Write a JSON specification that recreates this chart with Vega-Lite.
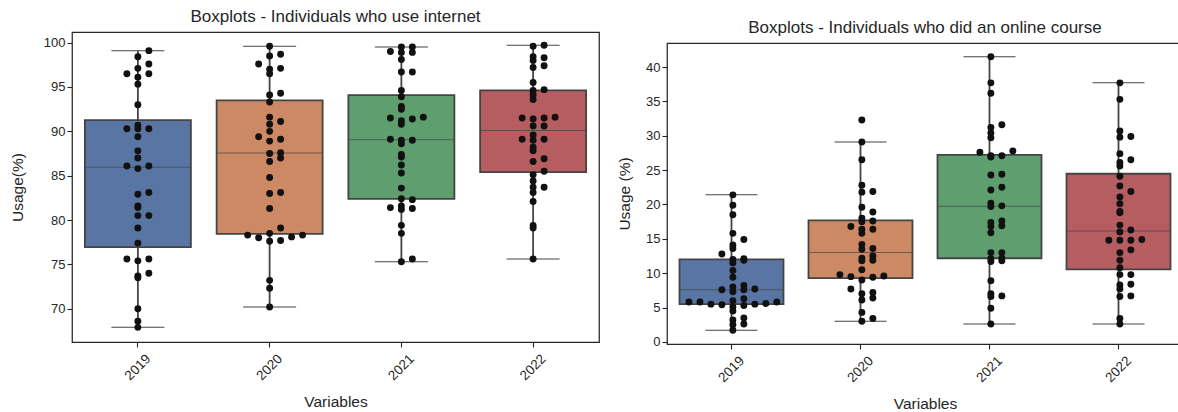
{
  "$schema": "https://vega.github.io/schema/vega-lite/v6.json",
  "background": "white",
  "padding": {"left": 9, "top": 6, "right": 0, "bottom": 0},
  "config": {
    "font": "Liberation Sans",
    "view": {"stroke": "#262626", "strokeWidth": 1.25},
    "axis": {"domain": false, "grid": false, "labelOverlap": false, "tickColor": "#262626", "tickSize": 5, "tickWidth": 1.1, "labelColor": "#262626", "labelFontSize": 13, "titleColor": "#262626", "titleFontSize": 15.5, "titleFontWeight": "normal", "labelFont": "Liberation Sans", "titleFont": "Liberation Sans"},
    "title": {"fontSize": 17, "fontWeight": "normal", "color": "#262626", "offset": 6, "font": "Liberation Sans"}
  },
  "datasets": {
    "net": [
      {"year": "2019", "usage": 99.1}, {"year": "2019", "usage": 98.4}, {"year": "2019", "usage": 97.6}, {"year": "2019", "usage": 97.1}, {"year": "2019", "usage": 96.5}, {"year": "2019", "usage": 96.5}, {"year": "2019", "usage": 96.1}, {"year": "2019", "usage": 95.3}, {"year": "2019", "usage": 93.0}, {"year": "2019", "usage": 90.7}, {"year": "2019", "usage": 90.3}, {"year": "2019", "usage": 90.3}, {"year": "2019", "usage": 90.3}, {"year": "2019", "usage": 89.4}, {"year": "2019", "usage": 87.8}, {"year": "2019", "usage": 87.0}, {"year": "2019", "usage": 86.1}, {"year": "2019", "usage": 85.8}, {"year": "2019", "usage": 86.1}, {"year": "2019", "usage": 83.1}, {"year": "2019", "usage": 82.9}, {"year": "2019", "usage": 81.6}, {"year": "2019", "usage": 81.4}, {"year": "2019", "usage": 80.5}, {"year": "2019", "usage": 80.5}, {"year": "2019", "usage": 79.1}, {"year": "2019", "usage": 77.4}, {"year": "2019", "usage": 75.6}, {"year": "2019", "usage": 75.6}, {"year": "2019", "usage": 75.4}, {"year": "2019", "usage": 74.0}, {"year": "2019", "usage": 73.7}, {"year": "2019", "usage": 73.5}, {"year": "2019", "usage": 70.0}, {"year": "2019", "usage": 68.6}, {"year": "2019", "usage": 67.9},
      {"year": "2020", "usage": 99.6}, {"year": "2020", "usage": 98.7}, {"year": "2020", "usage": 98.5}, {"year": "2020", "usage": 97.6}, {"year": "2020", "usage": 97.1}, {"year": "2020", "usage": 97.0}, {"year": "2020", "usage": 96.5}, {"year": "2020", "usage": 94.3}, {"year": "2020", "usage": 94.1}, {"year": "2020", "usage": 93.3}, {"year": "2020", "usage": 91.6}, {"year": "2020", "usage": 91.1}, {"year": "2020", "usage": 90.8}, {"year": "2020", "usage": 90.0}, {"year": "2020", "usage": 89.4}, {"year": "2020", "usage": 89.1}, {"year": "2020", "usage": 88.9}, {"year": "2020", "usage": 87.6}, {"year": "2020", "usage": 87.5}, {"year": "2020", "usage": 87.0}, {"year": "2020", "usage": 86.6}, {"year": "2020", "usage": 84.8}, {"year": "2020", "usage": 83.1}, {"year": "2020", "usage": 83.0}, {"year": "2020", "usage": 81.3}, {"year": "2020", "usage": 79.1}, {"year": "2020", "usage": 78.5}, {"year": "2020", "usage": 78.3}, {"year": "2020", "usage": 78.1}, {"year": "2020", "usage": 77.7}, {"year": "2020", "usage": 77.6}, {"year": "2020", "usage": 78.0}, {"year": "2020", "usage": 78.3}, {"year": "2020", "usage": 73.2}, {"year": "2020", "usage": 72.3}, {"year": "2020", "usage": 70.2},
      {"year": "2021", "usage": 99.5}, {"year": "2021", "usage": 99.5}, {"year": "2021", "usage": 99.0}, {"year": "2021", "usage": 98.9}, {"year": "2021", "usage": 98.9}, {"year": "2021", "usage": 98.1}, {"year": "2021", "usage": 96.7}, {"year": "2021", "usage": 96.7}, {"year": "2021", "usage": 94.6}, {"year": "2021", "usage": 93.9}, {"year": "2021", "usage": 92.8}, {"year": "2021", "usage": 92.5}, {"year": "2021", "usage": 91.4}, {"year": "2021", "usage": 91.6}, {"year": "2021", "usage": 91.2}, {"year": "2021", "usage": 91.5}, {"year": "2021", "usage": 90.8}, {"year": "2021", "usage": 89.0}, {"year": "2021", "usage": 88.6}, {"year": "2021", "usage": 89.1}, {"year": "2021", "usage": 89.0}, {"year": "2021", "usage": 87.1}, {"year": "2021", "usage": 87.4}, {"year": "2021", "usage": 86.2}, {"year": "2021", "usage": 85.3}, {"year": "2021", "usage": 83.6}, {"year": "2021", "usage": 82.3}, {"year": "2021", "usage": 82.4}, {"year": "2021", "usage": 81.6}, {"year": "2021", "usage": 81.3}, {"year": "2021", "usage": 81.2}, {"year": "2021", "usage": 81.4}, {"year": "2021", "usage": 79.4}, {"year": "2021", "usage": 78.5}, {"year": "2021", "usage": 75.6}, {"year": "2021", "usage": 75.3},
      {"year": "2022", "usage": 99.7}, {"year": "2022", "usage": 99.6}, {"year": "2022", "usage": 98.4}, {"year": "2022", "usage": 98.0}, {"year": "2022", "usage": 98.3}, {"year": "2022", "usage": 97.4}, {"year": "2022", "usage": 97.2}, {"year": "2022", "usage": 95.5}, {"year": "2022", "usage": 94.6}, {"year": "2022", "usage": 94.7}, {"year": "2022", "usage": 94.1}, {"year": "2022", "usage": 93.6}, {"year": "2022", "usage": 91.5}, {"year": "2022", "usage": 91.5}, {"year": "2022", "usage": 91.4}, {"year": "2022", "usage": 91.6}, {"year": "2022", "usage": 90.6}, {"year": "2022", "usage": 90.6}, {"year": "2022", "usage": 89.6}, {"year": "2022", "usage": 89.1}, {"year": "2022", "usage": 89.0}, {"year": "2022", "usage": 89.1}, {"year": "2022", "usage": 88.2}, {"year": "2022", "usage": 87.8}, {"year": "2022", "usage": 86.9}, {"year": "2022", "usage": 86.6}, {"year": "2022", "usage": 85.5}, {"year": "2022", "usage": 85.1}, {"year": "2022", "usage": 84.4}, {"year": "2022", "usage": 83.7}, {"year": "2022", "usage": 83.7}, {"year": "2022", "usage": 83.1}, {"year": "2022", "usage": 82.1}, {"year": "2022", "usage": 79.4}, {"year": "2022", "usage": 79.1}, {"year": "2022", "usage": 75.6}
    ],
    "onl": [
      {"year": "2019", "usage": 21.4}, {"year": "2019", "usage": 19.9}, {"year": "2019", "usage": 18.5}, {"year": "2019", "usage": 15.8}, {"year": "2019", "usage": 14.9}, {"year": "2019", "usage": 14.1}, {"year": "2019", "usage": 13.6}, {"year": "2019", "usage": 12.8}, {"year": "2019", "usage": 12.0}, {"year": "2019", "usage": 11.9}, {"year": "2019", "usage": 12.1}, {"year": "2019", "usage": 11.5}, {"year": "2019", "usage": 10.4}, {"year": "2019", "usage": 9.4}, {"year": "2019", "usage": 8.0}, {"year": "2019", "usage": 7.6}, {"year": "2019", "usage": 7.3}, {"year": "2019", "usage": 7.6}, {"year": "2019", "usage": 7.7}, {"year": "2019", "usage": 8.2}, {"year": "2019", "usage": 6.3}, {"year": "2019", "usage": 6.0}, {"year": "2019", "usage": 5.8}, {"year": "2019", "usage": 5.8}, {"year": "2019", "usage": 5.5}, {"year": "2019", "usage": 5.3}, {"year": "2019", "usage": 5.1}, {"year": "2019", "usage": 5.4}, {"year": "2019", "usage": 5.5}, {"year": "2019", "usage": 5.6}, {"year": "2019", "usage": 5.8}, {"year": "2019", "usage": 4.5}, {"year": "2019", "usage": 3.5}, {"year": "2019", "usage": 3.2}, {"year": "2019", "usage": 2.6}, {"year": "2019", "usage": 2.5}, {"year": "2019", "usage": 1.7},
      {"year": "2020", "usage": 32.3}, {"year": "2020", "usage": 29.1}, {"year": "2020", "usage": 26.5}, {"year": "2020", "usage": 22.8}, {"year": "2020", "usage": 21.9}, {"year": "2020", "usage": 21.8}, {"year": "2020", "usage": 19.6}, {"year": "2020", "usage": 18.9}, {"year": "2020", "usage": 18.0}, {"year": "2020", "usage": 17.5}, {"year": "2020", "usage": 17.6}, {"year": "2020", "usage": 16.4}, {"year": "2020", "usage": 15.8}, {"year": "2020", "usage": 16.4}, {"year": "2020", "usage": 16.8}, {"year": "2020", "usage": 13.6}, {"year": "2020", "usage": 13.5}, {"year": "2020", "usage": 14.2}, {"year": "2020", "usage": 12.5}, {"year": "2020", "usage": 11.8}, {"year": "2020", "usage": 11.9}, {"year": "2020", "usage": 12.2}, {"year": "2020", "usage": 10.5}, {"year": "2020", "usage": 9.8}, {"year": "2020", "usage": 9.4}, {"year": "2020", "usage": 9.0}, {"year": "2020", "usage": 9.5}, {"year": "2020", "usage": 9.6}, {"year": "2020", "usage": 7.7}, {"year": "2020", "usage": 7.0}, {"year": "2020", "usage": 7.2}, {"year": "2020", "usage": 6.4}, {"year": "2020", "usage": 6.1}, {"year": "2020", "usage": 4.3}, {"year": "2020", "usage": 3.4}, {"year": "2020", "usage": 3.0},
      {"year": "2021", "usage": 41.5}, {"year": "2021", "usage": 37.7}, {"year": "2021", "usage": 36.2}, {"year": "2021", "usage": 31.6}, {"year": "2021", "usage": 31.2}, {"year": "2021", "usage": 30.4}, {"year": "2021", "usage": 29.7}, {"year": "2021", "usage": 27.8}, {"year": "2021", "usage": 27.6}, {"year": "2021", "usage": 27.1}, {"year": "2021", "usage": 27.1}, {"year": "2021", "usage": 26.9}, {"year": "2021", "usage": 24.4}, {"year": "2021", "usage": 24.3}, {"year": "2021", "usage": 22.5}, {"year": "2021", "usage": 22.1}, {"year": "2021", "usage": 20.2}, {"year": "2021", "usage": 19.8}, {"year": "2021", "usage": 19.7}, {"year": "2021", "usage": 17.6}, {"year": "2021", "usage": 17.4}, {"year": "2021", "usage": 16.9}, {"year": "2021", "usage": 16.8}, {"year": "2021", "usage": 15.9}, {"year": "2021", "usage": 13.0}, {"year": "2021", "usage": 13.0}, {"year": "2021", "usage": 12.2}, {"year": "2021", "usage": 12.1}, {"year": "2021", "usage": 11.8}, {"year": "2021", "usage": 11.7}, {"year": "2021", "usage": 8.9}, {"year": "2021", "usage": 7.0}, {"year": "2021", "usage": 6.7}, {"year": "2021", "usage": 6.6}, {"year": "2021", "usage": 4.9}, {"year": "2021", "usage": 2.6},
      {"year": "2022", "usage": 37.7}, {"year": "2022", "usage": 35.3}, {"year": "2022", "usage": 30.7}, {"year": "2022", "usage": 29.9}, {"year": "2022", "usage": 29.8}, {"year": "2022", "usage": 27.4}, {"year": "2022", "usage": 26.5}, {"year": "2022", "usage": 26.1}, {"year": "2022", "usage": 25.6}, {"year": "2022", "usage": 24.1}, {"year": "2022", "usage": 22.7}, {"year": "2022", "usage": 21.9}, {"year": "2022", "usage": 21.1}, {"year": "2022", "usage": 20.1}, {"year": "2022", "usage": 19.0}, {"year": "2022", "usage": 18.8}, {"year": "2022", "usage": 17.0}, {"year": "2022", "usage": 16.3}, {"year": "2022", "usage": 16.0}, {"year": "2022", "usage": 14.8}, {"year": "2022", "usage": 14.8}, {"year": "2022", "usage": 14.8}, {"year": "2022", "usage": 14.9}, {"year": "2022", "usage": 13.4}, {"year": "2022", "usage": 13.0}, {"year": "2022", "usage": 11.9}, {"year": "2022", "usage": 10.8}, {"year": "2022", "usage": 9.8}, {"year": "2022", "usage": 9.8}, {"year": "2022", "usage": 8.3}, {"year": "2022", "usage": 8.4}, {"year": "2022", "usage": 7.7}, {"year": "2022", "usage": 6.7}, {"year": "2022", "usage": 6.6}, {"year": "2022", "usage": 3.4}, {"year": "2022", "usage": 2.6}
    ]
  },
  "concat": [
    {
      "spacing": 0,
      "vconcat": [
        {
          "width": 527,
          "height": 1,
          "view": {"stroke": null},
          "data": {"values": [{"a": 1}]},
          "mark": {"type": "point", "opacity": 0, "size": 0, "strokeWidth": 0},
          "encoding": {}
        },
        {
          "width": 527,
          "height": 310,
          "title": "Boxplots - Individuals who use internet",
          "data": {"name": "net"},
          "layer": [
            {
              "mark": {"type": "boxplot", "extent": 1.5, "size": 106,
                "box": {"stroke": "#444444", "strokeWidth": 1.8},
                "median": {"color": "#444444", "strokeWidth": 1.8},
                "rule": {"color": "#444444", "strokeWidth": 1.8},
                "ticks": {"color": "#444444", "size": 53, "strokeWidth": 1.8},
                "outliers": {"shape": "diamond", "color": "#444444", "filled": true, "size": 30}},
              "encoding": {
                "x": {"field": "year", "type": "nominal", "title": "Variables", "scale": {"paddingInner": 0, "paddingOuter": 0},
                  "axis": {"labelAngle": -45, "labelAlign": "center", "labelBaseline": "middle", "labelPadding": 20, "labelFontSize": 13.5, "titlePadding": 12}},
                "y": {"field": "usage", "type": "quantitative", "title": "Usage(%)", "scale": {"domain": [66.25, 101.2], "nice": false, "zero": false},
                  "axis": {"values": [70, 75, 80, 85, 90, 95, 100], "tickCount": 7, "labelOverlap": false, "labelPadding": 2, "titlePadding": 18}},
                "color": {"field": "year", "type": "nominal", "legend": null, "scale": {"range": ["#5975a4", "#cc8963", "#5f9e6e", "#b55d60"]}}
              }
            },
            {
              "transform": [
                {"bin": {"step": 0.8}, "field": "usage", "as": "ub"},
                {"window": [{"op": "row_number", "as": "k"}], "groupby": ["year", "ub"], "sort": [{"field": "usage", "order": "ascending"}]}
              ],
              "mark": {"type": "circle", "size": 48, "color": "#111111", "opacity": 1},
              "encoding": {
                "x": {"field": "year", "type": "nominal"},
                "xOffset": {"field": "k", "type": "nominal", "scale": {"type": "point", "domain": [11, 9, 7, 5, 3, 1, 2, 4, 6, 8, 10], "padding": 4.43}},
                "y": {"field": "usage", "type": "quantitative", "axis": {"values": [70, 75, 80, 85, 90, 95, 100], "tickCount": 7, "labelOverlap": false}}
              }
            }
          ]
        }
      ]
    },
    {
      "spacing": 11,
      "vconcat": [
        {
          "width": 516,
          "height": 1,
          "view": {"stroke": null},
          "data": {"values": [{"a": 1}]},
          "mark": {"type": "point", "opacity": 0, "size": 0, "strokeWidth": 0},
          "encoding": {}
        },
        {
          "width": 516,
          "height": 301,
          "title": "Boxplots - Individuals who did an online course",
          "data": {"name": "onl"},
          "layer": [
            {
              "mark": {"type": "boxplot", "extent": 1.5, "size": 104,
                "box": {"stroke": "#444444", "strokeWidth": 1.8},
                "median": {"color": "#444444", "strokeWidth": 1.8},
                "rule": {"color": "#444444", "strokeWidth": 1.8},
                "ticks": {"color": "#444444", "size": 52, "strokeWidth": 1.8},
                "outliers": {"shape": "diamond", "color": "#444444", "filled": true, "size": 30}},
              "encoding": {
                "x": {"field": "year", "type": "nominal", "title": "Variables", "scale": {"paddingInner": 0, "paddingOuter": 0},
                  "axis": {"labelAngle": -45, "labelAlign": "center", "labelBaseline": "middle", "labelPadding": 20, "labelFontSize": 13.5, "titlePadding": 12}},
                "y": {"field": "usage", "type": "quantitative", "title": "Usage (%)", "scale": {"domain": [-0.3, 43.5], "nice": false, "zero": false},
                  "axis": {"values": [0, 5, 10, 15, 20, 25, 30, 35, 40], "tickCount": 9, "labelOverlap": false, "labelPadding": 2, "titlePadding": 13}},
                "color": {"field": "year", "type": "nominal", "legend": null, "scale": {"range": ["#5975a4", "#cc8963", "#5f9e6e", "#b55d60"]}}
              }
            },
            {
              "transform": [
                {"bin": {"step": 1.0}, "field": "usage", "as": "ub"},
                {"window": [{"op": "row_number", "as": "k"}], "groupby": ["year", "ub"], "sort": [{"field": "usage", "order": "ascending"}]}
              ],
              "mark": {"type": "circle", "size": 48, "color": "#111111", "opacity": 1},
              "encoding": {
                "x": {"field": "year", "type": "nominal"},
                "xOffset": {"field": "k", "type": "nominal", "scale": {"type": "point", "domain": [11, 9, 7, 5, 3, 1, 2, 4, 6, 8, 10], "padding": 4.21}},
                "y": {"field": "usage", "type": "quantitative", "axis": {"values": [0, 5, 10, 15, 20, 25, 30, 35, 40], "tickCount": 9, "labelOverlap": false}}
              }
            }
          ]
        }
      ]
    }
  ],
  "columns": 2,
  "align": "none",
  "spacing": 16
}
